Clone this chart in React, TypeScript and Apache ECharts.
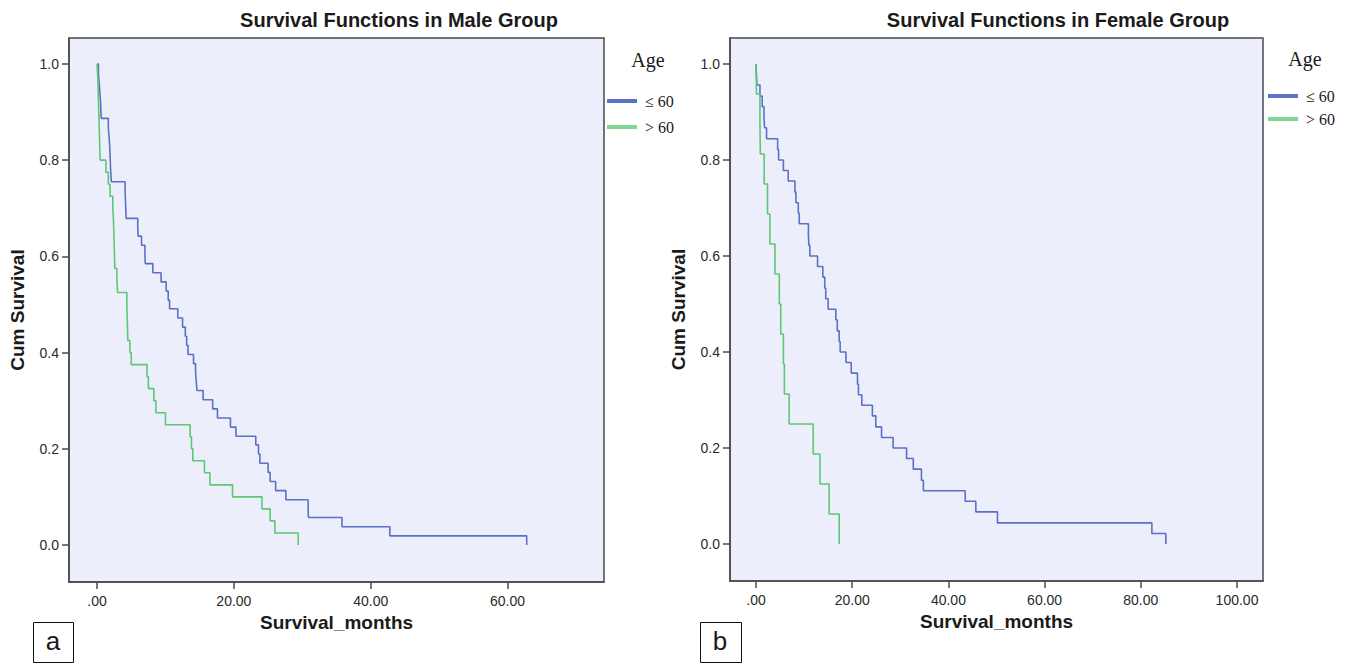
import React, { useEffect, useRef } from "react";
import * as echarts from "echarts";

// Male group, age <= 60: [months, cumulative survival]
const maleYoung: [number, number][] = [
  [0, 1.0], [0.2, 0.981], [0.3, 0.962], [0.4, 0.943], [0.5, 0.925], [0.55, 0.906], [0.6, 0.887],
  [1.65, 0.868], [1.75, 0.849], [1.85, 0.83], [1.9, 0.811], [1.95, 0.792], [2.0, 0.774], [2.1, 0.755],
  [4.1, 0.736], [4.15, 0.717], [4.2, 0.698], [4.25, 0.679], [5.95, 0.66], [6.0, 0.642], [6.5, 0.623],
  [7.0, 0.604], [7.05, 0.585], [8.15, 0.566], [9.36, 0.547], [10.1, 0.528], [10.4, 0.509], [10.6, 0.491],
  [11.8, 0.472], [12.5, 0.453], [12.9, 0.434], [13.1, 0.415], [13.3, 0.396], [14.1, 0.377], [14.4, 0.358],
  [14.5, 0.34], [14.6, 0.321], [15.5, 0.302], [16.9, 0.283], [17.6, 0.264], [19.5, 0.245], [20.3, 0.226],
  [23.2, 0.208], [23.6, 0.189], [23.8, 0.17], [25.0, 0.151], [25.3, 0.132], [26.1, 0.113], [27.6, 0.094],
  [30.85, 0.075], [30.9, 0.057], [35.8, 0.038], [42.8, 0.019], [62.8, 0.0],
];

// Male group, age > 60
const maleOld: [number, number][] = [
  [0, 1.0], [0.1, 0.975], [0.15, 0.95], [0.2, 0.925], [0.25, 0.9], [0.3, 0.875], [0.35, 0.85], [0.4, 0.825],
  [0.45, 0.8], [1.3, 0.775], [1.65, 0.75], [1.9, 0.725], [2.3, 0.7], [2.4, 0.675], [2.45, 0.65], [2.5, 0.625],
  [2.55, 0.6], [2.6, 0.575], [2.9, 0.55], [3.0, 0.525], [4.35, 0.5], [4.4, 0.475], [4.45, 0.45], [4.5, 0.425],
  [4.8, 0.4], [5.0, 0.375], [7.3, 0.35], [7.5, 0.325], [8.3, 0.3], [8.6, 0.275], [10.0, 0.25], [13.6, 0.225],
  [13.8, 0.2], [14.0, 0.175], [15.7, 0.15], [16.5, 0.125], [19.8, 0.1], [24.1, 0.075], [25.3, 0.05],
  [26.0, 0.025], [29.4, 0.0],
];

// Female group, age <= 60
const femaleYoung: [number, number][] = [
  [0, 1.0], [0.1, 0.978], [0.2, 0.956], [0.83, 0.933], [1.3, 0.911], [1.66, 0.889], [1.8, 0.867],
  [2.2, 0.844], [4.5, 0.822], [4.7, 0.8], [5.7, 0.778], [6.7, 0.756], [8.1, 0.733], [8.3, 0.711],
  [8.8, 0.689], [9.0, 0.667], [10.9, 0.644], [11.0, 0.622], [11.2, 0.6], [12.8, 0.578], [13.9, 0.556],
  [14.3, 0.533], [14.5, 0.511], [15.0, 0.489], [16.6, 0.467], [16.9, 0.444], [17.3, 0.422], [17.5, 0.4],
  [18.7, 0.378], [19.8, 0.356], [21.1, 0.333], [21.3, 0.311], [22.0, 0.289], [24.2, 0.267], [24.9, 0.244],
  [26.1, 0.222], [28.5, 0.2], [31.3, 0.178], [32.7, 0.156], [34.4, 0.133], [34.8, 0.111], [43.5, 0.089],
  [45.7, 0.067], [50.2, 0.044], [82.3, 0.022], [85.2, 0.0],
];

// Female group, age > 60
const femaleOld: [number, number][] = [
  [0, 1.0], [0.1, 0.9375], [0.83, 0.875], [0.9, 0.8125], [1.7, 0.75], [2.4, 0.6875], [2.9, 0.625],
  [3.95, 0.5625], [4.85, 0.5], [5.15, 0.4375], [5.7, 0.375], [5.9, 0.3125], [6.9, 0.25], [11.9, 0.1875],
  [13.3, 0.125], [15.2, 0.0625], [17.3, 0.0],
];

const groupNames = ["≤ 60", "> 60"];
const yTicks = [0, 0.2, 0.4, 0.6, 0.8, 1.0];
const xTicksMale = [0, 20, 40, 60];
const xTicksFemale = [0, 20, 40, 60, 80, 100];
const titles = ["Survival Functions in Male Group", "Survival Functions in Female Group"];
const legendTitle = "Age";
const panelLetters = ["a", "b"];

const BLUE = "#5A71C6";
const GREEN = "#5DC874";
const BG = "#EDEEFB";
const AXIS = "#4a4a4a";
const SANS = "Liberation Sans, Arial, sans-serif";
const SERIF = "Liberation Serif, Times New Roman, serif";

export default function App() {
  const ref = useRef<HTMLDivElement>(null);

  useEffect(() => {
    document.body.style.margin = "0";
    const chart = echarts.init(ref.current!, null, { renderer: "svg" });

    const grids = [
      { left: 69, top: 38, width: 535, height: 544 },
      { left: 730, top: 38, width: 533, height: 543 },
    ];
    const xRanges = [
      { min: -4.1, max: 74.1, ticks: xTicksMale },
      { min: -5.4, max: 105.4, ticks: xTicksFemale },
    ];

    const xAxes = xRanges.map((r, i) => ({
      type: "value",
      gridIndex: i,
      min: r.min,
      max: r.max,
      name: "Survival_months",
      nameLocation: "middle",
      nameGap: 30,
      nameTextStyle: { fontFamily: SANS, fontWeight: "bold", fontSize: 19, color: "#1a1a1a" },
      splitLine: { show: false },
      axisLine: { show: true, onZero: false, lineStyle: { color: AXIS, width: 1.5 } },
      axisTick: { show: true, length: 7, customValues: r.ticks, lineStyle: { color: AXIS, width: 1.5 } },
      axisLabel: {
        customValues: r.ticks,
        margin: 12,
        fontFamily: SANS,
        fontSize: 14,
        color: "#2a2a2a",
        formatter: (v: number) => (v === 0 ? ".00" : v.toFixed(2)),
      },
    }));

    const yAxes = [0, 1].map((i) => ({
      type: "value",
      gridIndex: i,
      min: -0.077,
      max: 1.054,
      name: "Cum Survival",
      nameLocation: "middle",
      nameGap: 42,
      nameTextStyle: { fontFamily: SANS, fontWeight: "bold", fontSize: 19, color: "#1a1a1a" },
      splitLine: { show: false },
      axisLine: { show: true, onZero: false, lineStyle: { color: AXIS, width: 1.5 } },
      axisTick: { show: true, length: 7, customValues: yTicks, lineStyle: { color: AXIS, width: 1.5 } },
      axisLabel: {
        customValues: yTicks,
        margin: 10,
        fontFamily: SANS,
        fontSize: 14,
        color: "#2a2a2a",
        formatter: (v: number) => v.toFixed(1),
      },
    }));

    const mkSeries = (name: string, data: [number, number][], idx: number, color: string) => ({
      name,
      type: "line",
      step: "end",
      xAxisIndex: idx,
      yAxisIndex: idx,
      data,
      showSymbol: false,
      symbol: "none",
      lineStyle: { color, width: 1.6 },
      itemStyle: { color },
      silent: true,
    });

    const mkLegend = (left: number, top: number, gap: number) => ({
      left,
      top,
      orient: "vertical",
      itemWidth: 30,
      itemHeight: 4,
      itemGap: gap,
      icon: "rect",
      selectedMode: false,
      padding: 0,
      textStyle: { fontFamily: SERIF, fontSize: 16, color: "#1a1a1a", padding: [0, 0, 0, 3] },
      data: [
        { name: groupNames[0], itemStyle: { color: "#5B72C8" } },
        { name: groupNames[1], itemStyle: { color: "#7ED695" } },
      ],
    });

    const txt = (text: string, x: number, y: number, font: string) => ({
      type: "text",
      x,
      y,
      style: { text, font, fill: "#1a1a1a", textAlign: "center", textVerticalAlign: "middle" },
    });

    chart.setOption({
      animation: false,
      backgroundColor: "#ffffff",
      legend: [mkLegend(607, 93, 10), mkLegend(1268, 88, 7)],
      grid: grids.map((g) => ({ ...g, show: true, backgroundColor: BG, borderColor: AXIS, borderWidth: 1.5 })),
      xAxis: xAxes,
      yAxis: yAxes,
      series: [
        mkSeries(groupNames[0], maleYoung, 0, BLUE),
        mkSeries(groupNames[1], maleOld, 0, GREEN),
        mkSeries(groupNames[0], femaleYoung, 1, BLUE),
        mkSeries(groupNames[1], femaleOld, 1, GREEN),
      ],
      graphic: [
        txt(titles[0], 399, 20, "bold 20px Liberation Sans, Arial, sans-serif"),
        txt(titles[1], 1058, 20, "bold 20px Liberation Sans, Arial, sans-serif"),
        txt(legendTitle, 648, 60, "20px Liberation Serif, Times New Roman, serif"),
        txt(legendTitle, 1305, 59, "20px Liberation Serif, Times New Roman, serif"),
        { type: "rect", left: 33, top: 622, shape: { width: 40, height: 40 }, style: { fill: "#fff", stroke: "#111", lineWidth: 1 } },
        txt(panelLetters[0], 53, 641, "26px Liberation Sans, Arial, sans-serif"),
        { type: "rect", left: 700, top: 622, shape: { width: 41, height: 40 }, style: { fill: "#fff", stroke: "#111", lineWidth: 1 } },
        txt(panelLetters[1], 720, 641, "26px Liberation Sans, Arial, sans-serif"),
      ],
    });

    return () => chart.dispose();
  }, []);

  return <div ref={ref} style={{ position: "absolute", left: 0, top: 0, width: 1347, height: 663 }} />;
}
